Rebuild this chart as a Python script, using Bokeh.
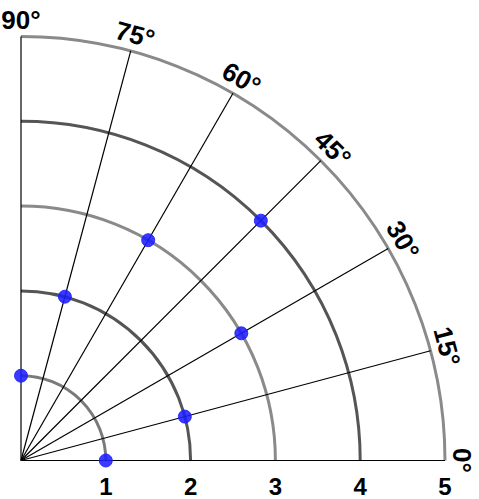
import numpy as np
from bokeh.plotting import figure
from bokeh.models import Range1d
from bokeh.core.properties import value
from bokeh.embed import file_html
from bokeh.resources import INLINE

# Data
point_r = [1, 2, 3, 4, 3, 2, 1]
point_theta = [0, 15, 30, 45, 60, 75, 90]
grid_radii = [1, 2, 3, 4, 5]
grid_colors = ["#7a7a7a", "#555555", "#8a8a8a", "#555555", "#8a8a8a"]
spoke_angles = [0, 15, 30, 45, 60, 75, 90]
angle_labels = ["0°", "15°", "30°", "45°", "60°", "75°", "90°"]
tick_values = [1, 2, 3, 4, 5]
tick_labels = ["1", "2", "3", "4", "5"]

W, H = 479, 499
s = 84.8
x0 = -20.5 / s
y1 = 460 / s

p = figure(width=W, height=H, output_backend="svg", toolbar_location=None,
           x_range=Range1d(x0, x0 + W / s), y_range=Range1d(y1 - H / s, y1),
           min_border=0)
p.axis.visible = False
p.grid.visible = False
p.outline_line_color = None
p.background_fill_color = "white"

# grid arcs
for r, c in zip(grid_radii, grid_colors):
    p.arc(x=0, y=0, radius=r, start_angle=0, end_angle=np.pi / 2,
          line_color=c, line_width=3)

# spokes
rmax = max(grid_radii)
ang = np.deg2rad(spoke_angles)
p.segment(x0=[0] * len(ang), y0=[0] * len(ang), x1=rmax * np.cos(ang), y1=rmax * np.sin(ang),
          line_color="black", line_width=1.2)

# angle labels
lr = 5.2
p.text(x=lr * np.cos(ang), y=lr * np.sin(ang), text=angle_labels,
       angle=[np.deg2rad(a - 90) for a in spoke_angles],
       text_font=value("Liberation Sans"), text_font_style="bold",
       text_font_size="26px", text_align="center", text_baseline="middle",
       text_color="black")

# tick labels
p.text(x=tick_values, y=[-0.31] * len(tick_values), text=tick_labels,
       text_font=value("Liberation Sans"), text_font_style="bold",
       text_font_size="24px", text_align="center", text_baseline="middle",
       text_color="black")

# points
th = np.deg2rad(point_theta)
pr = np.array(point_r)
p.scatter(x=pr * np.cos(th), y=pr * np.sin(th), size=13,
          fill_color="#1f1fff", line_color="#1f1fff", fill_alpha=0.88, line_alpha=0.88)

open("out.html", "w").write(file_html(p, INLINE))
